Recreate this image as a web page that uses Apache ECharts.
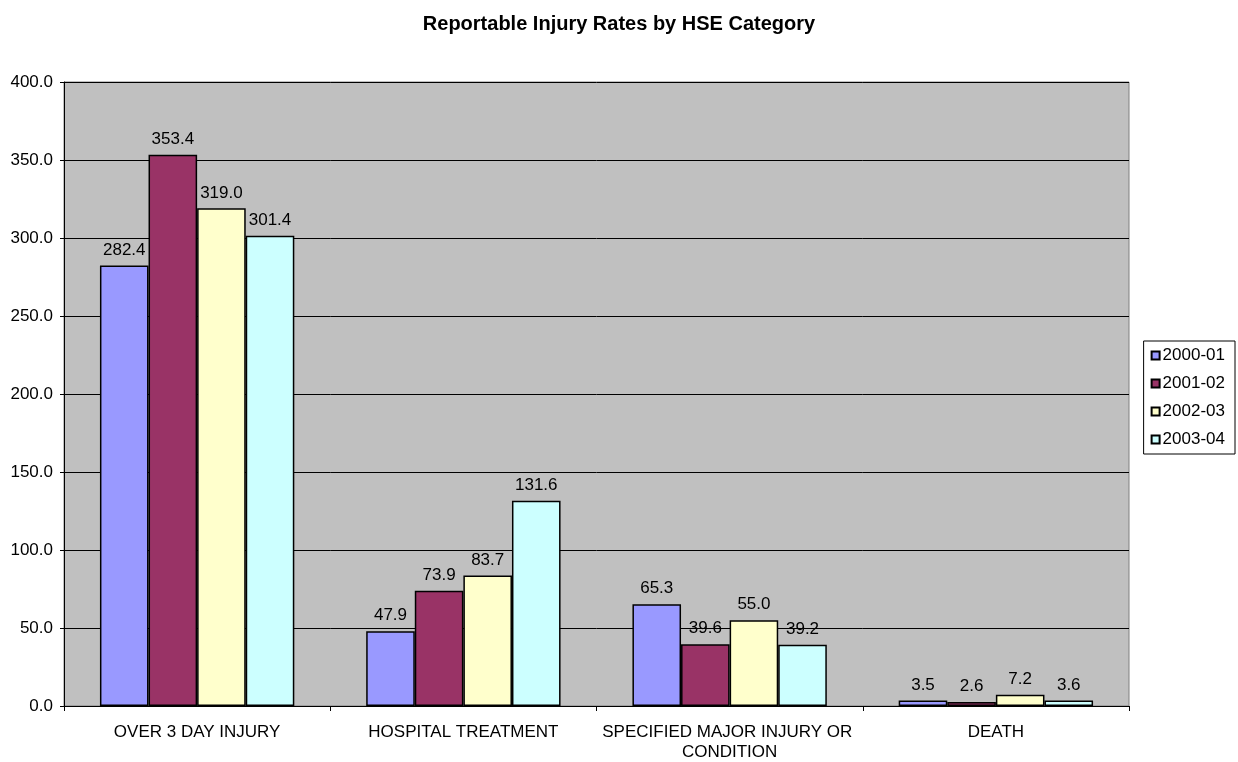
<!DOCTYPE html>
<html>
<head>
<meta charset="utf-8">
<script src="https://cdn.jsdelivr.net/npm/echarts@6/dist/echarts.min.js"></script>
<style>html,body{margin:0;padding:0;background:#fff}#c{width:1238px;height:762px}</style>
</head>
<body>
<div id="c"></div>
<script>
const categories = ["OVER 3 DAY INJURY", "HOSPITAL TREATMENT", "SPECIFIED MAJOR INJURY OR CONDITION", "DEATH"];
const seriesNames = ["2000-01", "2001-02", "2002-03", "2003-04"];
const s2000 = [282.4, 47.9, 65.3, 3.5];
const s2001 = [353.4, 73.9, 39.6, 2.6];
const s2002 = [319.0, 83.7, 55.0, 7.2];
const s2003 = [301.4, 131.6, 39.2, 3.6];
const colors = ["#9999FF", "#993366", "#FFFFCC", "#CCFFFF"];
const allData = [s2000, s2001, s2002, s2003];

const font = "Arial, 'Liberation Sans', sans-serif";
const chart = echarts.init(document.getElementById('c'));
chart.setOption({
  animation: false,
  textStyle: {fontFamily: font},
  title: {
    text: "Reportable Injury Rates by HSE Category",
    left: 'center', top: 9,
    textStyle: {fontSize: 20, fontWeight: 'bold', color: '#000', fontFamily: font}
  },
  legend: {
    orient: 'vertical', right: 3, top: 341,
    data: seriesNames,
    itemWidth: 8, itemHeight: 8, itemGap: 11,
    padding: [6, 10, 6, 7],
    borderColor: '#000', borderWidth: 1, backgroundColor: '#fff',
    icon: 'rect',
    textStyle: {fontSize: 17, color: '#000', fontFamily: font, padding: [0,0,0,-2]}
  },
  grid: {
    left: 64, right: 109, top: 82, bottom: 55,
    show: true, backgroundColor: '#C0C0C0', borderColor: '#808080', borderWidth: 1
  },
  xAxis: {
    type: 'category', data: categories,
    axisLine: {lineStyle: {color: '#000', width: 1}},
    axisTick: {show: true, length: 5, interval: 0, lineStyle: {color: '#000'}},
    axisLabel: {interval: 0, fontSize: 17, color: '#000', fontFamily: font, margin: 16, width: 262, overflow: 'break', lineHeight: 20}
  },
  yAxis: {
    type: 'value', min: 0, max: 400, interval: 50,
    axisLine: {show: true, lineStyle: {color: '#000', width: 1}},
    axisTick: {show: true, length: 4, lineStyle: {color: '#000'}},
    splitLine: {show: true, lineStyle: {color: '#000', width: 1}},
    axisLabel: {fontSize: 17, color: '#000', fontFamily: font, margin: 11, formatter: v => v.toFixed(1)}
  },
  series: seriesNames.map((n, i) => ({
    name: n, type: 'bar', data: allData[i],
    barGap: '0%', barCategoryGap: '27%',
    itemStyle: {color: colors[i], borderColor: '#000', borderWidth: 1.5},
    label: {show: true, position: 'top', distance: 7, fontSize: 17, color: '#000', fontFamily: font, formatter: p => p.value.toFixed(1)}
  }))
});
</script>
</body>
</html>
